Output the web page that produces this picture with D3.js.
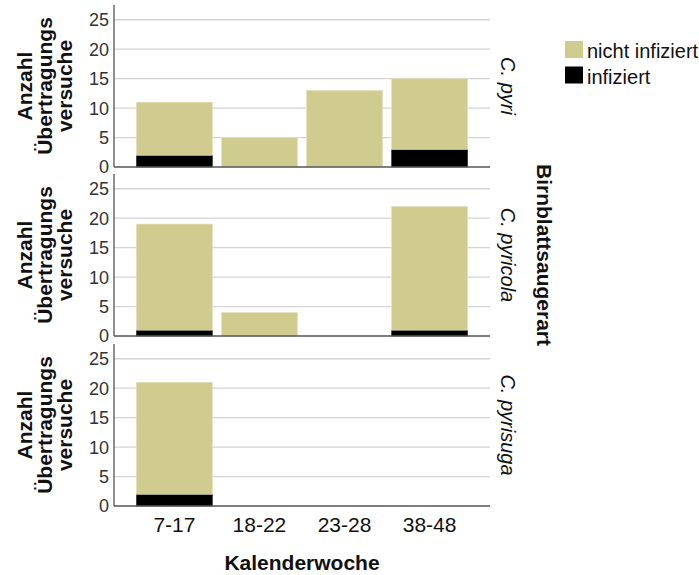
<!DOCTYPE html>
<html>
<head>
<meta charset="utf-8">
<script src="https://cdn.jsdelivr.net/npm/d3@7"></script>
<style>
  body { margin: 0; background: #fff; }
  text { font-family: "Liberation Sans", Arial, sans-serif; }
</style>
</head>
<body>
<svg id="chart" width="699" height="575"></svg>
<script>
var weeks = ["7-17", "18-22", "23-28", "38-48"];
var species = ["C. pyri", "C. pyricola", "C. pyrisuga"];
// counts per species, in week order
var nichtInfiziert = [
    [9, 5, 13, 12],
    [18, 4, 0, 21],
    [19, 0, 0, 0]
];
var infiziert = [
    [2, 0, 0, 3],
    [1, 0, 0, 1],
    [2, 0, 0, 0]
];
var yTicks = [0, 5, 10, 15, 20, 25];
var legendLabels = ["nicht infiziert", "infiziert"];
var colors = ["#d0cb8f", "#000000"];

var svg = d3.select("#chart");

var left = 114, right = 490;
var panelBottoms = [167, 336, 506],
    panelHeight = 162;

var x = d3.scaleBand()
    .domain(weeks)
    .range([left, right])
    .paddingInner(0.106)
    .paddingOuter(0.263);

species.forEach(function(sp, i) {
    var bottom = panelBottoms[i];
    var y = d3.scaleLinear()
        .domain([0, 27.5])
        .range([bottom, bottom - panelHeight]);

    var g = svg.append("g");

    // gridlines
    g.selectAll("line.grid")
        .data(yTicks.slice(1))
        .enter().append("line")
        .attr("x1", left).attr("x2", right)
        .attr("y1", function(d) { return y(d); })
        .attr("y2", function(d) { return y(d); })
        .attr("stroke", "#d4d4d4")
        .attr("stroke-width", 1.3);

    var rows = weeks.map(function(w, j) {
        return { week: w, inf: infiziert[i][j], non: nichtInfiziert[i][j] };
    });

    var stack = d3.stack().keys(["inf", "non"])(rows);

    g.selectAll("g.layer")
        .data(stack)
        .enter().append("g")
        .attr("fill", function(d, k) { return colors[1 - k]; })
        .attr("stroke", function(d, k) { return k === 0 ? "#333" : "#e6e2bb"; })
        .attr("stroke-width", 0.6)
        .selectAll("rect")
        .data(function(d) { return d.filter(function(s) { return s[1] > s[0]; }); })
        .enter().append("rect")
        .attr("x", function(d) { return x(d.data.week); })
        .attr("width", x.bandwidth())
        .attr("y", function(d) { return y(d[1]); })
        .attr("height", function(d) { return y(d[0]) - y(d[1]); });

    // axes lines
    g.append("line")
        .attr("x1", left).attr("x2", right)
        .attr("y1", bottom).attr("y2", bottom)
        .attr("stroke", "#555").attr("stroke-width", 1.3);
    g.append("line")
        .attr("x1", left).attr("x2", left)
        .attr("y1", bottom - panelHeight).attr("y2", bottom)
        .attr("stroke", "#555").attr("stroke-width", 1.3);

    // y tick labels
    g.selectAll("text.tick")
        .data(yTicks)
        .enter().append("text")
        .attr("x", left - 5)
        .attr("y", function(d) { return y(d); })
        .attr("dy", "0.36em")
        .attr("text-anchor", "end")
        .attr("font-size", 18)
        .attr("fill", "#333")
        .text(function(d) { return d; });

    // y title
    var midY = bottom - panelHeight / 2;
    var title = g.append("text")
        .attr("transform", "translate(0," + midY + ") rotate(-90)")
        .attr("text-anchor", "middle")
        .attr("font-size", 21)
        .attr("font-weight", "bold")
        .attr("fill", "#111");
    ["Anzahl", "Übertragungs", "versuche"].forEach(function(t, k) {
        title.append("tspan")
            .attr("x", 0)
            .attr("y", 32 + k * 20)
            .text(t);
    });

    // strip label
    g.append("text")
        .attr("transform", "translate(501," + midY + ") rotate(90)")
        .attr("text-anchor", "middle")
        .attr("font-size", 20)
        .attr("font-style", "italic")
        .attr("fill", "#111")
        .text(sp);
});

// x tick labels
svg.selectAll("text.xtick")
    .data(weeks)
    .enter().append("text")
    .attr("x", function(d) { return x(d) + x.bandwidth() / 2; })
    .attr("y", 532)
    .attr("text-anchor", "middle")
    .attr("font-size", 21)
    .attr("fill", "#111")
    .text(function(d) { return d; });

svg.append("text")
    .attr("x", 302)
    .attr("y", 570)
    .attr("text-anchor", "middle")
    .attr("font-size", 21)
    .attr("font-weight", "bold")
    .attr("fill", "#111")
    .text("Kalenderwoche");

svg.append("text")
    .attr("transform", "translate(537,255) rotate(90)")
    .attr("text-anchor", "middle")
    .attr("font-size", 21)
    .attr("font-weight", "bold")
    .attr("fill", "#111")
    .text("Birnblattsaugerart");

// legend
var legend = svg.append("g");
legendLabels.forEach(function(l, k) {
    legend.append("rect")
        .attr("x", 565).attr("y", 41 + k * 25.5)
        .attr("width", 18).attr("height", 17)
        .attr("fill", colors[k]);
    legend.append("text")
        .attr("x", 587).attr("y", 58 + k * 25.5)
        .attr("font-size", 20)
        .attr("fill", "#111")
        .text(l);
});
</script>
</body>
</html>
